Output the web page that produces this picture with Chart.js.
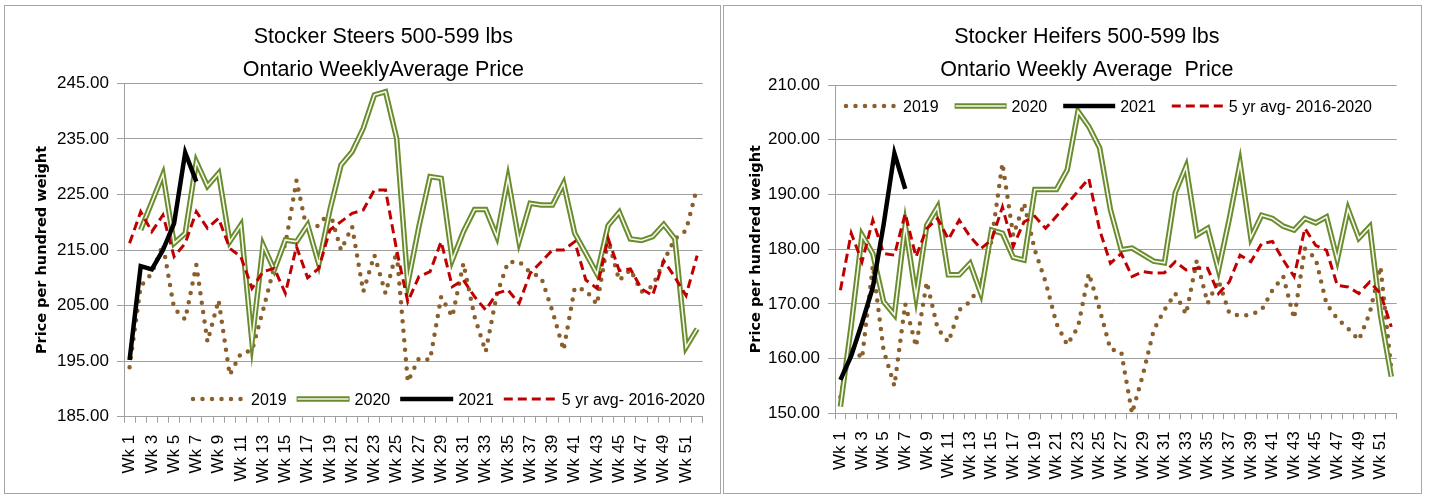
<!DOCTYPE html>
<html><head><meta charset="utf-8">
<script src="https://cdn.jsdelivr.net/npm/chart.js@4.4.0/dist/chart.umd.min.js"></script>
<style>
html,body{margin:0;padding:0;background:#fff;width:1429px;height:496px;overflow:hidden}
.panel{position:absolute;border:1px solid #a6a6a6;box-sizing:border-box;background:#fff}
canvas{position:absolute}
</style></head><body>
<div class="panel" style="left:4px;top:5px;width:717px;height:489px"></div>
<div class="panel" style="left:723px;top:5px;width:699px;height:489px"></div>
<canvas id="c1" width="714" height="486" style="left:6px;top:6px"></canvas>
<canvas id="c2" width="697" height="486" style="left:724px;top:6px"></canvas>
<script>
const weeks = ['Wk 1','Wk 2','Wk 3','Wk 4','Wk 5','Wk 6','Wk 7','Wk 8','Wk 9','Wk 10','Wk 11','Wk 12','Wk 13','Wk 14','Wk 15','Wk 16','Wk 17','Wk 18','Wk 19','Wk 20','Wk 21','Wk 22','Wk 23','Wk 24','Wk 25','Wk 26','Wk 27','Wk 28','Wk 29','Wk 30','Wk 31','Wk 32','Wk 33','Wk 34','Wk 35','Wk 36','Wk 37','Wk 38','Wk 39','Wk 40','Wk 41','Wk 42','Wk 43','Wk 44','Wk 45','Wk 46','Wk 47','Wk 48','Wk 49','Wk 50','Wk 51','Wk 52'];

// Stocker Steers 500-599 lbs
const steers2019 = [193.9,208.5,210.8,216,204.5,202.5,212.3,198.5,206,192.5,196.4,196.9,204.2,212,216,227.5,218,219.5,221.9,215,219.2,207.5,214.1,207.2,214.7,191.3,195.5,195.2,206.6,203,212.6,203,196.7,207,212.8,212.9,211,210,204,197,208.2,207.8,205.2,216.8,209.5,211.5,207.5,208.5,213,217,218.5,226.3];
const steers2020 = [null,218.6,223.6,228.6,216.2,218,230.9,226.5,228.8,216.5,219.5,198.5,215.9,211.4,216.8,216.5,219.5,212.5,222.2,230.3,232.7,236.9,242.9,243.5,235.1,209,219.2,228.2,227.9,213.2,218.3,222.3,222.3,217.4,227.9,216.5,223.4,223.1,223.1,227,218,214.4,210.7,219.4,221.8,217,216.7,217.4,219.6,217,197.5,200.8];
const steers2021 = [195.2,212.1,211.5,215,219.8,232.5,227.3];
const steers5yr = [216.2,221.9,218.3,221.3,213.8,216.2,221.9,218.9,220.7,215.3,213.8,208.1,211.1,211.7,207.2,215.6,210,211.7,218.6,220.1,221.6,222.2,225.8,225.8,215,205.7,210.2,211.1,216.5,208.4,209.6,206.6,204.2,207.2,207.8,205.4,210.8,212.9,215,215,216.5,209.6,208.1,217.1,211.3,211.6,208,206.8,213.1,210.1,206.8,214];
const steersAxis = {min:185, max:245, step:10};

// Stocker Heifers 500-599 lbs
const heifers2019 = [153,162.5,160,177,161.5,155,170,162.2,174,165.5,163,168.9,170.4,173.5,181.7,195.7,182.5,188.4,179.8,174,166.4,162.5,165.8,175.6,169,161.7,161.2,150,157,165.2,168.9,171.9,168.1,178,170.1,174.3,168.3,167.8,168,168.9,172.5,175,167.3,180.1,178.3,170,167.3,165.5,163.4,168.3,176.8,158];
const heifers2020 = [151.2,166,182.6,179.2,170.4,168,184.4,171.3,184.4,187.7,175.3,175.3,177.4,171.9,183.5,182.9,178.5,178,190.9,190.9,190.9,194.5,205.2,202.4,198.5,187.2,179.9,180.2,179,177.8,177.5,190.3,195.1,182.6,183.8,176.2,185.5,195.7,182.1,186.2,185.6,184.2,183.5,185.6,184.8,185.9,178.1,187.3,182,184.1,168,156.7];
const heifers2021 = [156.1,160.5,166.5,173,184.5,197.5,191];
const heifers5yr = [172.5,182.9,177.7,185.3,179.2,178.9,186.5,178.6,183.8,185.6,181.8,185.3,182.3,180.1,181.7,187.7,180.5,185,186,183.8,186,188.3,190.6,192.9,183.5,177.4,179.2,175,175.9,175.6,175.7,177.7,176.2,176.5,176.5,171.9,174,178.9,177.7,181,181.4,178,175,183.8,180.7,179.8,173.4,173.1,171.9,174,171.9,165.8];
const heifersAxis = {min:150, max:210, step:10};

const seriesNames = ['2019','2020','2021','5 yr avg- 2016-2020'];

const C = {
  brown:'#8b5f2c', green:'#6a8c2e', greenInner:'#f7faef', black:'#000000', red:'#c00000', grid:'#a0a0a0'
};
const FONT = 'Liberation Sans, Arial, sans-serif';

const styles = {
  s2019:{color:C.brown,width:4.5,dash:[0,9.5],cap:'round'},
  s2020:{color:C.green,width:5.5,inner:C.greenInner,innerWidth:1.6},
  s2021:{color:C.black,width:4.5},
  s5yr:{color:C.red,width:3,dash:[9,5]}
};

function drawSample(ctx, st, x, y, len){
  ctx.save();
  ctx.beginPath(); ctx.moveTo(x,y); ctx.lineTo(x+len,y);
  ctx.strokeStyle = st.color; ctx.lineWidth = st.width;
  ctx.lineCap = st.cap || 'butt';
  ctx.setLineDash(st.dash || []);
  ctx.stroke();
  if (st.inner){
    ctx.beginPath(); ctx.moveTo(x+1,y); ctx.lineTo(x+len-1,y);
    ctx.strokeStyle = st.inner; ctx.lineWidth = st.innerWidth; ctx.setLineDash([]); ctx.stroke();
  }
  ctx.restore();
}

const deco = {
  id:'deco',
  afterDraw(chart, args, o){
    const ctx = chart.ctx, ca = chart.chartArea;
    ctx.save();
    ctx.fillStyle = '#000';
    ctx.font = '21.5px ' + FONT;
    ctx.textAlign = 'center'; ctx.textBaseline = 'alphabetic';
    const tx = (ca.left + ca.right)/2 + o.titleDx;
    o.title.forEach((t,i)=>ctx.fillText(t, tx, o.titleBase[i]));
    let x = ca.left + o.legendDx;
    const y = o.legendBottom ? ca.bottom + o.legendDy : ca.top + o.legendDy;
    ctx.font = '16px ' + FONT; ctx.textAlign = 'left';
    const sts = [styles.s2019, styles.s2020, styles.s2021, styles.s5yr];
    seriesNames.forEach((name,i)=>{
      drawSample(ctx, sts[i], x, y, o.lineLen);
      x += o.lineLen + o.gap1;
      ctx.fillStyle = '#000';
      ctx.fillText(name, x, y + 6);
      x += ctx.measureText(name).width + o.gap2;
    });
    ctx.restore();
  }
};

function datasets(d2019, d2020, d2021, d5yr){
  return [
    {label:'2021', data:d2021, borderColor:C.black, borderWidth:styles.s2021.width, order:0},
    {label:'5 yr avg- 2016-2020', data:d5yr, borderColor:C.red, borderWidth:3, borderDash:styles.s5yr.dash, order:1},
    {label:'2020', data:d2020, borderColor:C.greenInner, borderWidth:1.6, borderJoinStyle:'miter', order:2},
    {label:'2020', data:d2020, borderColor:C.green, borderWidth:5.5, borderJoinStyle:'miter', order:3},
    {label:'2019', data:d2019, borderColor:C.brown, borderWidth:styles.s2019.width, borderDash:styles.s2019.dash, borderCapStyle:'round', order:4}
  ].map(ds=>Object.assign({pointRadius:0, pointHoverRadius:0, tension:0, fill:false, spanGaps:false}, ds));
}

function makeChart(id, data, axis, geo, decoOpts){
  return new Chart(document.getElementById(id), {
    type:'line',
    data:{labels:weeks, datasets:data},
    options:{
      responsive:false, animation:false, devicePixelRatio:1,
      layout:{padding:{left:geo.padL, right:geo.padR, top:geo.padT, bottom:0}},
      plugins:{legend:{display:false}, tooltip:{enabled:false}, title:{display:false}, deco:decoOpts},
      scales:{
        x:{
          offset:true,
          grid:{display:true, drawOnChartArea:false, drawTicks:true, tickLength:6, color:C.grid, offset:true},
          border:{display:true, color:C.grid, width:1},
          ticks:{autoSkip:false, minRotation:90, maxRotation:90, padding:12, color:'#000',
            font:{family:FONT, size:17},
            callback:function(v,i){ return i%2===0 ? this.getLabelForValue(v) : ''; }},
          afterFit:(s)=>{ s.height = geo.xH; s.paddingLeft = 0; s.paddingRight = 0; }
        },
        y:{
          min:axis.min, max:axis.max,
          grid:{color:C.grid, lineWidth:1, drawTicks:true, tickLength:7},
          border:{display:true, color:C.grid, width:1},
          ticks:{stepSize:axis.step, padding:8, color:'#000', font:{family:FONT, size:17},
            callback:(v)=>v.toFixed(2)},
          title:{display:true, text:'Price per hundred weight', color:'#000',
            font:{family:'DejaVu Sans', weight:'bold', size:14.5}, padding:{top:geo.titlePad, bottom:0}},
          afterFit:(s)=>{ s.width = geo.yW; }
        }
      }
    },
    plugins:[deco]
  });
}

makeChart('c1', datasets(steers2019, steers2020, steers2021, steers5yr), steersAxis,
  {padL:18, padR:17.3, padT:77.3, xH:75.3, yW:100, titlePad:10},
  {title:['Stocker Steers 500-599 lbs','Ontario WeeklyAverage Price'], titleDx:-30, titleBase:[37,70],
   legendBottom:true, legendDx:69, legendDy:-17.7, lineLen:53, gap1:5, gap2:10});

makeChart('c2', datasets(heifers2019, heifers2020, heifers2021, heifers5yr), heifersAxis,
  {padL:18, padR:24.3, padT:79, xH:78.7, yW:93, titlePad:6},
  {title:['Stocker Heifers 500-599 lbs','Ontario Weekly Average  Price'], titleDx:-29, titleBase:[37,70],
   legendBottom:false, legendDx:11, legendDy:21, lineLen:52, gap1:5, gap2:16});
</script>
</body></html>
